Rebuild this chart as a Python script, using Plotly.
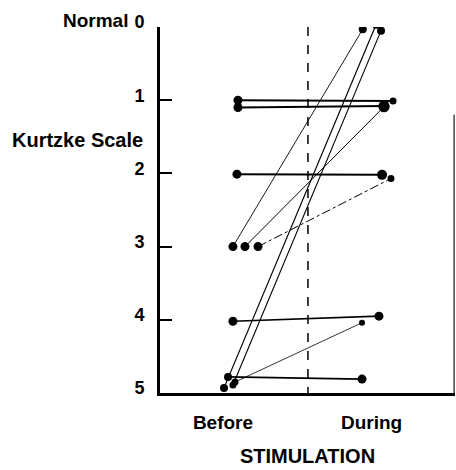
import plotly.graph_objects as go

# Kurtzke scale scores per patient (before stimulation, during stimulation)
before_score = [1.0, 1.1, 2.01, 3.0, 3.0, 3.0, 4.02, 4.78, 4.85, 4.93, 4.89]
during_score = [1.01, 1.08, 2.02, 0.03, 1.09, 2.07, 3.95, 4.81, 4.04, -0.03, 0.05]
# horizontal jitter of each point around its category (category units)
before_jitter = [0.101, 0.101, 0.094, 0.067, 0.148, 0.236, 0.067, 0.034, 0.081, 0.007, 0.067]
during_jitter = [0.145, 0.084, 0.071, -0.059, 0.084, 0.131, 0.050, -0.064, -0.064, 0.030, 0.064]
categories = ["Before", "During"]
y_ticks = [0, 1, 2, 3, 4, 5]

# line styles per patient (style, not data)
styles = [
    dict(width=2, dash="solid"),
    dict(width=2, dash="solid"),
    dict(width=2, dash="solid"),
    dict(width=0.9, dash="solid"),
    dict(width=1, dash="solid"),
    dict(width=1, dash="dashdot"),
    dict(width=1.6, dash="solid"),
    dict(width=1.8, dash="solid"),
    dict(width=0.8, dash="solid"),
    dict(width=1.2, dash="solid"),
    dict(width=1.1, dash="solid"),
]
msize_before = [9, 9, 9, 9, 9, 9, 9, 8, 7, 8, 7]
msize_during = [7, 11, 10, 8, 11, 7, 9, 9, 6, 8, 8]

fig = go.Figure()
for i in range(len(before_score)):
    xb = 1 + before_jitter[i]
    xd = 2 + during_jitter[i]
    fig.add_trace(go.Scatter(
        x=[xb, xd], y=[before_score[i], during_score[i]],
        mode="lines+markers",
        line=dict(color="black", width=styles[i]["width"], dash=styles[i]["dash"]),
        marker=dict(color="black", size=[msize_before[i], msize_during[i]],
                    opacity=1, line=dict(width=0)),
        showlegend=False, hoverinfo="skip",
    ))

FAM = "Liberation Sans, Arial, Helvetica, sans-serif"
font = dict(family=FAM, color="black", size=19, weight="bold")
font_big = dict(family=FAM, color="black", size=20, weight="bold")
tickfont_y = dict(family=FAM, color="black", size=18, weight="bold")

fig.add_shape(type="line", xref="x", yref="y", x0=1.572, x1=1.572, y0=0, y1=5,
              line=dict(color="black", width=1.5, dash="dash"))
# right edge rule
fig.add_shape(type="line", xref="paper", yref="y", x0=0.997, x1=0.997, y0=1.2, y1=5,
              line=dict(color="#444", width=1.5))

fig.update_layout(
    width=456, height=470,
    margin=dict(l=160, r=1, t=27, b=77, autoexpand=False),
    paper_bgcolor="white", plot_bgcolor="white",
    xaxis=dict(
        range=[0.576, 2.562], automargin=False,
        tickmode="array", tickvals=[1, 2], ticktext=categories,
        showgrid=False, zeroline=False,
        showline=True, linecolor="black", linewidth=3,
        ticks="", tickfont=font, ticklabelstandoff=10,
        title=dict(text="STIMULATION", font=font_big, standoff=18),
    ),
    yaxis=dict(
        range=[5, 0], automargin=False,
        tickmode="array", tickvals=y_ticks, ticktext=[str(v) for v in y_ticks],
        showgrid=False, zeroline=False,
        showline=True, linecolor="black", linewidth=3,
        ticks="inside", ticklen=12, tickwidth=2, tickcolor="black",
        tickfont=tickfont_y, ticklabelshift=5, ticklabelstandoff=9,
    ),
)

fig.add_annotation(text="Normal", xref="paper", yref="y", x=0, y=0, xshift=-30, yshift=7,
                   xanchor="right", yanchor="middle", showarrow=False, font=font)
fig.add_annotation(text="Kurtzke Scale", xref="paper", yref="y", x=0, y=1.54, xshift=-15,
                   xanchor="right", yanchor="middle", showarrow=False, font=font_big)

fig.write_html("out.html", config={"displayModeBar": False},
               post_script="document.body.style.margin='0';document.body.style.padding='0';")
